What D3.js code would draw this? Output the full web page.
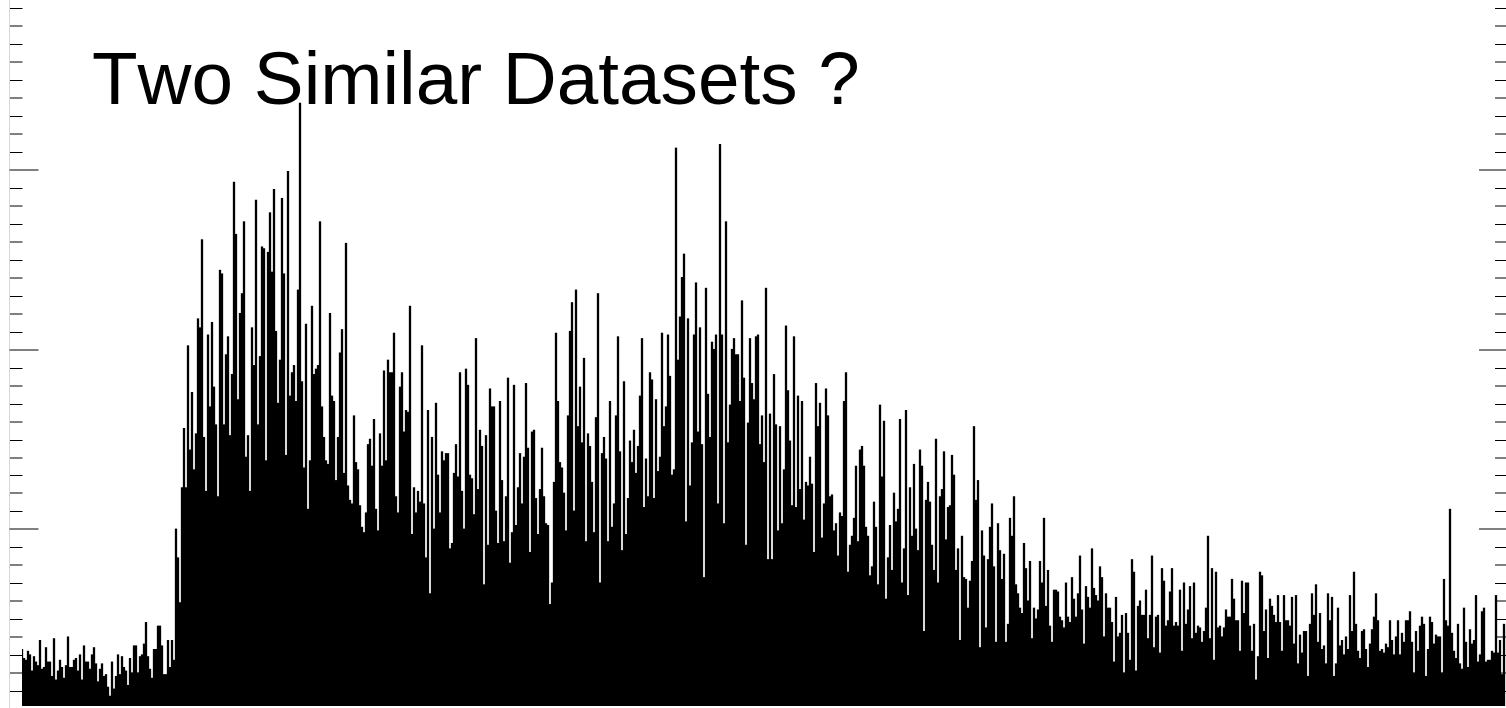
<!DOCTYPE html>
<html><head><meta charset="utf-8">
<script src="https://cdn.jsdelivr.net/npm/d3@7"></script>
<style>html,body{margin:0;padding:0;background:#fff;overflow:hidden}svg{display:block}</style>
</head><body><svg id="c" width="1506" height="708"></svg>
<script>
const titleText = "Two Similar Datasets ?";
const majorTicks = [100,200,300];
const minorTicks = [10,20,30,40,50,60,70,80,90,110,120,130,140,150,160,170,180,190,210,220,230,240,250,260,270,280,290,310,320,330,340,350,360,370,380,390];
const preStep = [34,29,28,33,31,22,30,27,25,39,23,24,35,27,27,19,40,17,22,28,24,18,25,41,24,24,28,29,22,31,17,36,27,27,23,31,35,26,16,23,26,19,20,13,8,27,12,19,31,20,30,24,22,14,29,21,36,36,21,30,31,37,49,30,23,18,34,34,47,47,36,20,20,39,24,39,28,101,85,60,124];
const firstPeak = [157,124,203,145,177,134,154,218,213,262,152,122,209,169,216,180,159,119,245,243,159,198,208,153,187,294,265,173,221,232,272,141,153,122,213,192,284,159,197,258,257,139,255,277,244,290,211,171,195,285,243,142,300,175,188,192,172,234,338,183,135,215,112,139,225,187,190,192,272,169,152,139,137,221,175,172,128,152,199,212,132,260,125,117,115,164,138,134,114,102,99,110,148];
const plateau = [151,136,162,112,100,154,136,189,139,195,188,188,210,119,110,180,188,155,167,166,225,98,124,110,122,116,203,115,85,167,65,152,101,171,131,110,144,139,143,143,90,93,132,148,130,188,122,101,190,181,131,129,109,207,123,156,147,70,153,92,179,169,169,111,93,172,128,94,119,185,82,99,181,103,124,143,115,141,182,146,88,155,156,118,98,123,146,119,104,103,59,71,127,210,172,138,135,121,100,164,211,227,111,234,158,180,149,196,94,154,147,127,99,163,232,71,143,152,140,94,172,102,115,164,208,144,89,183,98,118];
const secondPeak = [150,138,156,132,147,175,207,113,140,119,188,184,118,173,133,141,210,158,169,209,186,131,134,313,195,219,241,254,105,218,125,149,209,238,155,213,148,74,235,176,152,205,201,209,115,315,209,104,272,149,170,201,207,198,198,172,228,185,92,160,207,182,173,208,209,148,164,138,235,84,165,84,187,159,100,158,104,134,214,178,150,114,208,113,175,123,172,106,127,125,141,126,88,182,158,171,96,115,179,164,119,120,100,104,86,110,108,172,188,77,92,97,107,136,94,145,147,136,102,97,75,80,116,102,70,170,130,161,62,85];
const decline = [103,78,121,105,112,162,71,90,167,64,124,97,137,101,89,145,136,44,117,127,116,92,78,151,71,119,123,144,95,113,114,142,131,78,90,39,97,74,73,57,72,83,158,117,128,35,100,86,46,84,102,115,80,38,104,89,73,87,38,48,107,97,119,70,65,57,54,93,79,61,83,40,57,51,56,83,71,107,58,78,47,38,67,67,66,52,50,46,71,52,49,74,62,52,65,86,56,37,69,63,57,90,68,64,61,80,74,41,65,57,57,49,27,63,41,43,53,21,54,43,28,84,77,22,58,61,53,53,67,40,53,86,35,52,53,32,79,72,47,50,66,79,47,49,47,67,33,71,48,56];
const tail = [69,40,71,43,47,46,38,44,57,97,40,79,28,77,46,47,41,46,56,52,52,73,62,50,50,33,72,54,71,71,47,33,48,17,30,77,75,44,56,29,62,58,53,49,64,49,33,64,50,50,47,63,37,64,26,42,32,44,44,19,48,65,53,70,38,54,34,36,26,65,50,63,19,26,57,36,39,31,41,34,64,44,77,48,33,29,44,45,34,24,37,45,52,65,50,33,34,32,37,35,50,39,31,41,50,31,43,38,50,50,55,38,21,44,33,47,52,48,19,34,52,49,37,42,41,41,21,73,50,47,112,43,33,29,48,26,23,57,38,24,45,37,39,64,27,31,55,57,27,28,28,33,32,64,32,39,20,48];
const counts = [...preStep,...firstPeak,...plateau,...secondPeak,...decline,...tail];

const W=1506,H=708,dataLeft=21;
const svg=d3.select("#c");
const x=d3.scaleLinear().domain([0,counts.length]).range([dataLeft,dataLeft+2*counts.length]);
const y=d3.scaleLinear().domain([0,300,400]).range([709.1,170,-9.7]);
svg.append("clipPath").attr("id","pl").append("rect").attr("x",22).attr("y",0).attr("width",W).attr("height",706);
svg.append("g").attr("clip-path","url(#pl)").selectAll("rect").data(counts).join("rect")
  .attr("x",(d,i)=>x(i)-0.15).attr("width",(d,i)=>x(i+1)-x(i)+0.3).attr("y",d=>y(d)+1).attr("height",d=>y(0)-y(d)).attr("fill","#000");
function axis(gen,xp,vals,len){
  const g=svg.append("g").attr("transform",`translate(${xp},0)`)
    .call(gen(y).tickValues(vals).tickSize(len).tickSizeOuter(0).offset(0).tickFormat(""));
  g.selectAll(".tick").attr("transform",d=>`translate(0,${Math.round(y(d))+(d%20?0.5:0)})`);
  g.selectAll("line").attr("stroke","#000").attr("stroke-width",1);
  g.select(".domain").attr("stroke","#d8d8d8").attr("stroke-width",1);
  g.selectAll("text").remove();
}
axis(d3.axisRight,9.5,minorTicks,13);
axis(d3.axisRight,9.5,majorTicks,29);
axis(d3.axisLeft,1508,minorTicks,13);
axis(d3.axisLeft,1508,majorTicks,29);
svg.append("text").attr("x",92).attr("y",103.5).attr("font-family","'Liberation Sans',Arial,sans-serif").attr("font-size",74.7).style("font-kerning","none").attr("fill","#000").text(titleText);
</script></body></html>
